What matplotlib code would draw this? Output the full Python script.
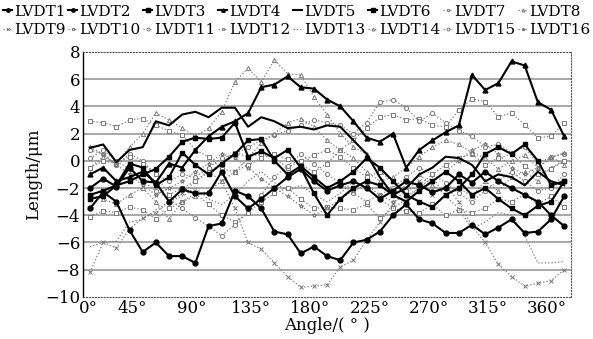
import matplotlib
matplotlib.use('Agg')
import matplotlib.pyplot as plt
import numpy as np
from matplotlib.transforms import ScaledTranslation

# angle every 10 degrees
angle = np.arange(0, 361, 10)

lvdt1 = [-3.5, -2.3, -3.0, -5.1, -6.7, -6.0, -7.0, -7.0, -7.5, -4.8, -4.6, -2.2, -2.6, -3.5, -5.2, -5.4,
         -6.8, -6.3, -7.0, -7.3, -6.0, -5.8, -5.2, -4.0, -3.2, -4.3, -4.6, -5.3, -5.3, -4.7, -5.4, -4.9,
         -4.3, -5.3, -5.2, -4.3, -2.6]
lvdt2 = [-2.0, -1.3, -1.9, -0.5, -1.5, -1.6, -3.0, -2.1, -2.4, -2.4, -0.8, -2.6, -3.5, -2.8, -2.0, -1.2,
         -0.6, -1.5, -2.2, -1.8, -1.5, -2.0, -2.8, -2.2, -1.5, -1.8, -2.3, -2.0, -1.0, -1.6, -0.8, -1.5,
         -2.0, -2.5, -3.0, -4.0, -4.8]
lvdt3 = [-2.5, -2.2, -1.8, -1.5, -1.0, -0.6, 0.3, 1.4, 1.7, 1.6, 1.7, 2.8, 0.3, 0.7, 0.2, 0.8,
         -0.5, -2.4, -4.0, -2.8, -2.0, -1.5, -1.8, -2.5, -3.0, -2.2, -1.5, -0.8, -1.5, -2.5, -2.0, -2.8,
         -3.5, -4.0, -3.3, -3.0, -1.5]
lvdt4 = [-1.0, -0.5, -1.5, -1.2, -0.8, -1.6, -0.2, -0.5, 0.8, 1.8, 2.5, 2.9, 3.5, 5.4, 5.6, 6.2,
         5.4, 5.3, 4.5, 4.0, 2.9, 1.7, 1.4, 2.0, -0.5, 0.8, 1.5, 2.1, 2.6, 6.3, 5.2, 5.7,
         7.3, 7.0, 4.3, 3.75, 1.8]
lvdt5 = [0.95, 1.2, -0.1, 0.8, 1.0, 2.9, 2.6, 3.4, 3.6, 3.2, 3.9, 3.9, 2.5, 3.2, 2.9, 2.4,
         2.5, 2.3, 2.6, 2.5, 1.5, 0.5, -1.2, -2.5, -2.0, -1.0, -0.5, 0.3, 0.2, -0.3, -1.5, -1.0,
         -1.2, -1.8, -0.8, -1.5, -1.8]
lvdt6 = [-2.8, -2.6, -1.8, -0.2, -0.5, -1.8, -1.2, 0.6, -0.3, -1.0, -0.2, 0.5, 1.5, 1.6, 0.0, -1.0,
         -0.4, -1.2, -2.0, -1.5, -0.8, 0.2, -0.5, -1.5, -2.5, -3.0, -3.4, -2.5, -2.0, -1.0, 0.5, 1.0,
         0.5, 1.2, 0.0, -1.8, -1.5]
lvdt7 = [2.9, 2.8, 2.5, 3.0, 3.1, 2.6, 2.2, 1.9, 0.8, 0.3, -0.6, -0.8, -0.3, 0.2, 0.5, 0.1,
         -0.3, -0.8, -0.2, 0.8, 1.5, 2.4, 3.2, 3.4, 3.0, 3.1, 2.6, 2.5, 3.75, 4.55, 4.35, 3.25,
         3.5, 2.65, 1.7, 1.8, 2.8]
lvdt8 = [-0.5, 0.3, -0.2, 1.0, 2.0, 3.5, 3.0, 2.4, 1.8, 2.4, 3.6, 5.8, 6.8, 5.8, 7.4, 6.4,
         6.3, 4.7, 3.4, 2.0, 1.0, 0.5, -0.6, -1.5, -2.0, -1.0, -1.8, -2.5, -2.0, -2.6, -1.5, -2.2,
         -1.2, -0.8, -1.5, -0.5, 0.0]
lvdt9 = [-8.2, -6.0, -6.4, -5.0, -4.2, -3.8, -3.0, -2.4, -1.5, -0.8, -1.5, -3.5, -6.0, -6.5, -7.5, -8.5,
         -9.3, -9.2, -9.1, -7.8, -7.3, -5.8, -4.5, -3.2, -2.0, -1.5, -2.5, -1.8, -3.0, -4.8, -6.0, -7.6,
         -8.5, -9.2, -9.0, -8.8, -8.0]
lvdt10 = [-4.1, -3.7, -3.8, -3.4, -3.6, -4.3, -3.5, -3.0, -2.4, -3.2, -4.0, -4.5, -3.8, -3.0, -2.4, -2.0,
          -2.8, -3.5, -3.4, -3.5, -3.6, -3.2, -4.2, -3.5, -3.7, -3.8, -3.2, -4.0, -3.6, -3.8, -3.5, -2.8,
          -3.0, -2.5, -3.2, -2.6, -3.4]
lvdt11 = [0.8, 0.5, -0.3, 0.5, 0.0, -1.0, -1.5, -1.0, -1.2, -0.5, 0.2, 0.5, 1.0, 1.5, 1.9, 2.2,
          2.6, 3.0, 2.8, 2.6, 2.0, 2.8, 4.3, 4.5, 3.9, 2.9, 3.5, 2.8, 2.2, 1.8, 1.0, 1.2,
          0.6, 1.0, -0.2, 0.3, 0.5]
lvdt12 = [-0.5, 0.0, -0.2, 0.3, -0.2, -1.0, -2.5, -2.0, -1.5, -0.8, -0.2, 0.6, 0.3, 0.5, 0.2, -0.5,
          0.0, 0.4, 0.8, 0.3, -0.5, -1.2, -0.8, -1.5, -2.2, -1.8, -1.0, -0.3, 0.2, 0.5, -0.3, 0.2,
          0.5, -0.4, -1.0, -0.6, 0.0]
lvdt13 = [-6.3, -6.0, -5.9, -4.5, -4.3, -3.6, -3.0, -2.6, -2.0, -2.8, -3.2, -2.5, -1.5, -0.8, -1.6, -2.2,
          -1.8, -2.5, -3.0, -2.4, -1.5, -2.0, -2.8, -3.5, -2.8, -2.0, -1.2, -2.6, -3.5, -5.0, -4.5, -3.8,
          -4.0, -5.5, -7.5, -7.5, -7.4]
lvdt14 = [-2.5, -2.8, -3.2, -2.5, -2.0, -3.0, -4.3, -3.0, -2.6, -2.2, -1.5, -0.8, 0.2, 1.3, 2.0, 2.8,
          3.1, 2.5, 1.5, 0.8, 0.2, -0.8, -1.5, -1.2, -0.5, 0.3, 1.0, 1.5, 1.2, 0.6, 0.2, -0.6,
          0.0, 0.4, -0.5, 0.3, -0.3]
lvdt15 = [0.2, 0.8, 0.0, -0.6, -1.5, -2.2, -2.8, -3.5, -4.2, -4.8, -5.5, -4.7, -3.8, -2.5, -1.2, -0.4,
          0.5, -0.2, -1.0, -1.6, -2.4, -3.0, -2.5, -2.0, -1.2, -0.5, -1.0, -1.6, -2.4, -3.0, -2.2, -1.5,
          -0.8, -1.5, -2.2, -2.0, -1.0]
lvdt16 = [1.0, 0.5, -0.3, -1.0, -1.8, -2.5, -2.0, -1.5, -0.8, -0.2, 0.5, 0.2, -0.5, -1.3, -2.0, -2.6,
          -3.3, -4.0, -3.5, -2.8, -2.2, -1.8, -2.5, -3.0, -2.6, -2.0, -1.5, -0.8, 0.0, 0.8, 1.2, 0.5,
          -0.5, -1.0, -0.5, 0.2, 0.6]

series = [lvdt1, lvdt2, lvdt3, lvdt4, lvdt5, lvdt6, lvdt7, lvdt8,
          lvdt9, lvdt10, lvdt11, lvdt12, lvdt13, lvdt14, lvdt15, lvdt16]
names = ['LVDT%d' % (i + 1) for i in range(16)]

markers = ['o', 'o', 's', '^', '', 's', 's', '^', 'x', 's', 'o', 's', '', '^', 'o', '*']

plt.rcParams['font.family'] = 'DejaVu Serif'
plt.rcParams['mathtext.fontset'] = 'dejavuserif'

fig = plt.figure(figsize=(5.93, 3.39), dpi=100)
ax = fig.add_axes([0.14, 0.124, 0.823, 0.723])

handles = []
for i, (y, name) in enumerate(zip(series, names)):
    if i < 6:
        h, = ax.plot(angle, y, color='black', lw=1.5, marker=markers[i], ms=3.5,
                     mfc='black', mec='black', label=name, zorder=3)
    else:
        h, = ax.plot(angle, y, color='#7a7a7a', lw=0.9, ls=':', marker=markers[i], ms=3,
                     mfc='white', mec='#7a7a7a', mew=0.7, label=name, zorder=2)
    handles.append(h)

ax.set_xlim(-5.3, 365.2)
ax.set_ylim(-10, 8)
ax.set_yticks(np.arange(-10, 9, 2))
ax.set_xticks(np.arange(0, 361, 45))
ax.set_xticklabels(['%d°' % a for a in range(0, 361, 45)])
ax.tick_params(length=0, labelsize=12, pad=2)

for k, lab in enumerate(ax.get_xticklabels()):
    dx = -0.02 if k == 0 else -0.17
    lab.set_transform(lab.get_transform() + ScaledTranslation(dx, 0, fig.dpi_scale_trans))

for yv in np.arange(-8, 8, 2):
    ax.axhline(yv, color='#9a9a9a', lw=1.2, zorder=1)

for s in ['top', 'right', 'bottom']:
    ax.spines[s].set_linestyle(':')
    ax.spines[s].set_color('#555555')
ax.spines['left'].set_linewidth(1.0)

ax.set_xlabel('Angle/( ° )', fontsize=12, labelpad=0)
ax.set_ylabel('Length/μm', fontsize=12, labelpad=2)

# legend fills column by column, so interleave rows 1-8 and 9-16
order = []
for c in range(8):
    order += [c, c + 8]
fig.legend([handles[k] for k in order], [names[k] for k in order],
           loc='upper center', bbox_to_anchor=(0.5, 0.995), ncol=8, frameon=False,
           fontsize=11, handlelength=0.6, handletextpad=0.1, columnspacing=0.2,
           labelspacing=0.3, markerscale=0.7, borderaxespad=0.1, borderpad=0.1)

fig.savefig('out.png', dpi=100)
